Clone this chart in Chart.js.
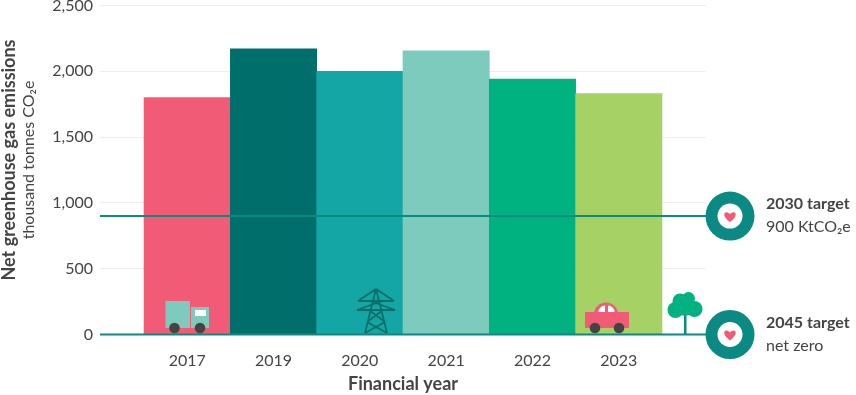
<!DOCTYPE html>
<html>
<head>
<meta charset="utf-8">
<script src="https://cdn.jsdelivr.net/npm/chart.js@4/dist/chart.umd.js"></script>
<style>
  html, body { margin: 0; padding: 0; background: #fff; }
  canvas { display: block; }
</style>
</head>
<body>
<canvas id="myChart" width="856" height="395"></canvas>
<script>
const years = ["2017", "2019", "2020", "2021", "2022", "2023"];
const emissions = [1800, 2170, 2000, 2155, 1940, 1830];
const barColors = ["#f25b75", "#006f6b", "#14a5a5", "#7dcbbd", "#00b280", "#a5d165"];
const targetValues = [900, 0];
const targetTitles = ["2030 target", "2045 target"];
const targetNotes = ["900 KtCO₂e", "net zero"];
const yTicks = [0, 500, 1000, 1500, 2000, 2500];

const fontName = 'Lato, sans-serif';
const textColor = "#444";
const teal = "#0b8a84";
// the grid runs about half a bar past each end of the bars
const xMin = -1.01;
const xMax = 6.01;

function heart(ctx, x, y, s) {
  ctx.fillStyle = "#f25b75";
  ctx.beginPath();
  ctx.moveTo(x, y + s);
  ctx.bezierCurveTo(x - s * 1.6, y - s * 0.1, x - s * 0.9, y - s * 1.2, x, y - s * 0.35);
  ctx.bezierCurveTo(x + s * 0.9, y - s * 1.2, x + s * 1.6, y - s * 0.1, x, y + s);
  ctx.fill();
}

function circle(ctx, x, y, r, color) {
  ctx.fillStyle = color;
  ctx.beginPath();
  ctx.arc(x, y, r, 0, Math.PI * 2);
  ctx.fill();
}

function drawTruck(ctx) {
  ctx.fillStyle = "#7dcbbd";
  ctx.fillRect(165.5, 301, 24.5, 27);
  ctx.fillRect(191, 307, 18, 21);
  ctx.fillStyle = "#fff";
  ctx.fillRect(195, 310, 11, 6);
  circle(ctx, 174.5, 328, 5.3, "#444");
  circle(ctx, 200, 328, 5.3, "#444");
}

function drawPylon(ctx) {
  ctx.strokeStyle = "#0a6f6c";
  ctx.lineWidth = 1.8;
  const cx = 376;
  ctx.beginPath();
  ctx.moveTo(cx, 289); ctx.lineTo(cx - 11, 333);
  ctx.moveTo(cx, 289); ctx.lineTo(cx + 11, 333);
  ctx.moveTo(cx - 18, 301); ctx.lineTo(cx + 18, 301);
  ctx.moveTo(cx - 19, 310); ctx.lineTo(cx + 19, 310);
  ctx.moveTo(cx, 289); ctx.lineTo(cx - 18, 301);
  ctx.moveTo(cx, 289); ctx.lineTo(cx + 18, 301);
  ctx.moveTo(cx - 6, 301); ctx.lineTo(cx + 19, 310);
  ctx.moveTo(cx + 6, 301); ctx.lineTo(cx - 19, 310);
  ctx.moveTo(cx - 7, 310); ctx.lineTo(cx + 9, 322);
  ctx.moveTo(cx + 7, 310); ctx.lineTo(cx - 9, 322);
  ctx.moveTo(cx - 9, 322); ctx.lineTo(cx + 11, 333);
  ctx.moveTo(cx + 9, 322); ctx.lineTo(cx - 11, 333);
  ctx.stroke();
}

function drawCar(ctx) {
  ctx.fillStyle = "#f25b75";
  ctx.fillRect(585, 312, 44, 16);
  circle(ctx, 606, 314.5, 12, "#f25b75");
  ctx.fillStyle = "#fff";
  ctx.beginPath();
  ctx.moveTo(598, 312); ctx.arc(605, 312, 6.5, Math.PI, Math.PI * 1.5); ctx.lineTo(605, 312); ctx.fill();
  ctx.beginPath();
  ctx.moveTo(608, 312); ctx.lineTo(608, 305.5); ctx.arc(608, 312, 6.5, Math.PI * 1.5, 0); ctx.fill();
  circle(ctx, 595, 328, 5.3, "#444");
  circle(ctx, 619, 328, 5.3, "#444");
}

function drawTree(ctx) {
  ctx.fillStyle = teal;
  ctx.fillRect(684, 312, 2.5, 22);
  [[680, 301, 7.5], [688.5, 298.5, 6.5], [675.5, 310, 8], [694.5, 309, 8], [685, 307, 9]].forEach(b => {
    circle(ctx, b[0], b[1], b[2], "#00b280");
  });
}

const extras = {
  id: "extras",
  afterDatasetsDraw(chart) {
    const ctx = chart.ctx;
    const y = chart.scales.y;
    ctx.save();
    drawTruck(ctx);
    drawPylon(ctx);
    drawCar(ctx);
    drawTree(ctx);

    targetValues.forEach((v, i) => {
      const py = y.getPixelForValue(v);
      circle(ctx, 730, py, 24.5, teal);
      circle(ctx, 730, py, 12.5, "#fff");
      heart(ctx, 730, py, 6);
      ctx.fillStyle = textColor;
      ctx.textAlign = "left";
      ctx.textBaseline = "middle";
      ctx.font = "bold 16px " + fontName;
      ctx.fillText(targetTitles[i], 766, py - 12);
      ctx.font = "16px " + fontName;
      ctx.fillText(targetNotes[i], 766, py + 11);
    });

    // y axis title, two lines in two weights
    ctx.translate(0, 160);
    ctx.rotate(-Math.PI / 2);
    ctx.textAlign = "center";
    ctx.textBaseline = "middle";
    ctx.fillStyle = textColor;
    ctx.font = "bold 18px " + fontName;
    ctx.fillText("Net greenhouse gas emissions", 0, 9);
    ctx.font = "16px " + fontName;
    ctx.fillText("thousand tonnes CO₂e", 0, 29);
    ctx.restore();
  }
};

const data = {
  labels: years,
  datasets: [
    {
      type: "line",
      label: "2030 target",
      data: [{ x: xMin, y: targetValues[0] }, { x: xMax, y: targetValues[0] }],
      borderColor: teal,
      borderWidth: 2,
      pointRadius: 0,
      order: 0
    },
    {
      type: "line",
      label: "2045 target",
      data: [{ x: xMin, y: targetValues[1] }, { x: xMax, y: targetValues[1] }],
      borderColor: teal,
      borderWidth: 2,
      pointRadius: 0,
      clip: false,
      order: 0
    },
    {
      label: "Net greenhouse gas emissions",
      data: emissions.map((v, i) => ({ x: i, y: v })),
      backgroundColor: barColors,
      borderWidth: 0,
      barPercentage: 1,
      categoryPercentage: 1,
      order: 1
    }
  ]
};

const config = {
  type: "bar",
  data: data,
  plugins: [extras],
  options: {
    responsive: false,
    animation: false,
    layout: { padding: { top: 5.5, right: 150, left: 0, bottom: 0 } },
    plugins: { legend: { display: false }, tooltip: { enabled: false } },
    scales: {
      x: {
        type: "linear",
        bounds: "data",
        min: xMin,
        max: xMax,
        offset: false,
        afterBuildTicks(scale) { scale.ticks = years.map((y, i) => ({ value: i })); },
        grid: { display: false },
        border: { display: false },
        ticks: {
          autoSkip: false,
          maxRotation: 0,
          color: textColor,
          font: { family: fontName, size: 16 },
          padding: 9,
          callback: value => years[value]
        },
        title: {
          display: true,
          text: "Financial year",
          color: textColor,
          font: { family: fontName, size: 18, weight: "bold" },
          padding: { top: 6, bottom: 0 }
        },
        afterFit(scale) { scale.height = 60.5; }
      },
      y: {
        min: 0,
        max: 2500,
        afterBuildTicks(scale) { scale.ticks = yTicks.map(v => ({ value: v })); },
        grid: { color: "#eeeeee", lineWidth: 1, drawTicks: false },
        border: { display: false },
        ticks: {
          color: textColor,
          font: { family: fontName, size: 16 },
          padding: 7,
          callback: value => value.toLocaleString("en-US")
        },
        afterFit(scale) {
          scale.width = 100;
          scale.paddingTop = 0;
          scale.paddingBottom = 0;
        }
      }
    }
  }
};

const myChart = new Chart(document.getElementById("myChart"), config);
</script>
</body>
</html>
